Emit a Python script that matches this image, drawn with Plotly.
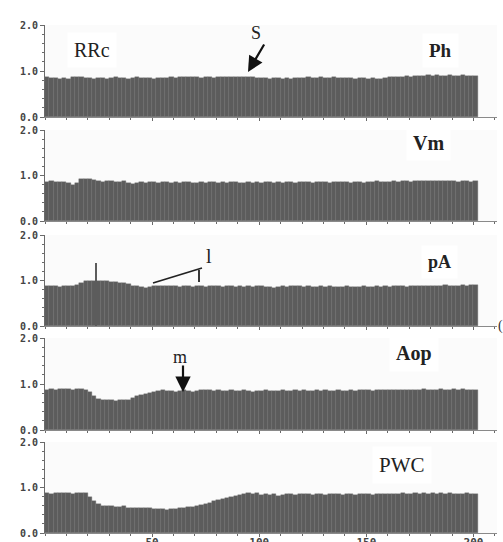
import plotly.graph_objects as go

W, H = 503, 542

# ---------------- data ----------------
x_centers = list(range(1, 202, 2))  # 101 bins, width 2

ph = [0.86,0.85,0.84,0.83,0.84,0.82,0.86,0.88,0.87,0.84,
      0.85,0.83,0.84,0.85,0.83,0.84,0.86,0.84,0.85,0.83,
      0.84,0.86,0.85,0.84,0.85,0.83,0.84,0.85,0.84,0.86,
      0.85,0.86,0.87,0.86,0.88,0.86,0.85,0.87,0.86,0.85,
      0.86,0.87,0.86,0.88,0.87,0.86,0.88,0.87,0.86,0.85,
      0.84,0.85,0.83,0.84,0.85,0.83,0.84,0.82,0.84,0.85,
      0.84,0.86,0.85,0.84,0.87,0.85,0.84,0.86,0.85,0.84,
      0.85,0.84,0.83,0.85,0.84,0.83,0.84,0.83,0.82,0.84,
      0.86,0.87,0.88,0.87,0.89,0.88,0.90,0.89,0.90,0.91,
      0.90,0.91,0.89,0.90,0.91,0.90,0.89,0.91,0.90,0.89,0.90]

vm = [0.86,0.87,0.86,0.85,0.86,0.84,0.80,0.84,0.92,0.93,
      0.92,0.90,0.87,0.86,0.87,0.88,0.86,0.85,0.87,0.84,
      0.82,0.83,0.85,0.84,0.86,0.85,0.84,0.86,0.85,0.84,
      0.85,0.84,0.86,0.85,0.84,0.83,0.85,0.84,0.86,0.85,
      0.84,0.85,0.84,0.86,0.85,0.84,0.83,0.85,0.84,0.85,
      0.84,0.86,0.85,0.84,0.85,0.84,0.86,0.85,0.84,0.85,
      0.86,0.85,0.84,0.85,0.86,0.85,0.84,0.86,0.85,0.86,
      0.85,0.84,0.86,0.85,0.84,0.86,0.85,0.87,0.86,0.85,
      0.86,0.87,0.86,0.88,0.87,0.86,0.88,0.89,0.88,0.87,
      0.88,0.89,0.88,0.87,0.88,0.87,0.86,0.88,0.87,0.86,0.87]

pa = [0.88,0.87,0.88,0.86,0.87,0.88,0.87,0.90,0.95,0.98,
      0.99,1.00,1.00,0.99,0.98,0.96,0.97,0.95,0.94,0.92,
      0.89,0.87,0.85,0.83,0.86,0.88,0.87,0.89,0.88,0.87,
      0.88,0.86,0.87,0.88,0.86,0.87,0.88,0.86,0.87,0.88,
      0.87,0.86,0.88,0.87,0.86,0.87,0.85,0.87,0.86,0.88,
      0.87,0.86,0.85,0.84,0.86,0.87,0.86,0.88,0.89,0.87,
      0.86,0.87,0.86,0.85,0.87,0.86,0.87,0.86,0.85,0.86,
      0.87,0.86,0.85,0.86,0.87,0.86,0.85,0.87,0.86,0.87,
      0.86,0.87,0.88,0.87,0.86,0.88,0.87,0.88,0.89,0.88,
      0.89,0.88,0.89,0.90,0.89,0.88,0.89,0.90,0.89,0.90,0.90]
pa_spike_x = [24]
pa_spike_y = [1.39]

aop = [0.88,0.89,0.88,0.90,0.89,0.90,0.88,0.89,0.90,0.88,
       0.82,0.74,0.68,0.66,0.65,0.65,0.64,0.65,0.65,0.66,
       0.69,0.73,0.77,0.79,0.81,0.83,0.84,0.86,0.84,0.85,
       0.83,0.84,0.86,0.85,0.82,0.84,0.86,0.87,0.86,0.85,
       0.86,0.85,0.84,0.86,0.85,0.84,0.86,0.85,0.83,0.85,
       0.84,0.86,0.85,0.84,0.85,0.86,0.84,0.85,0.86,0.85,
       0.86,0.85,0.84,0.86,0.85,0.86,0.84,0.85,0.86,0.85,
       0.84,0.86,0.85,0.86,0.87,0.86,0.85,0.86,0.87,0.86,
       0.87,0.86,0.88,0.87,0.86,0.88,0.87,0.88,0.89,0.88,
       0.87,0.88,0.89,0.88,0.87,0.89,0.88,0.89,0.88,0.87,0.88]

pwc = [0.87,0.86,0.88,0.87,0.89,0.88,0.86,0.88,0.89,0.87,
       0.80,0.70,0.63,0.60,0.59,0.59,0.58,0.58,0.59,0.56,
       0.55,0.55,0.56,0.55,0.54,0.53,0.52,0.52,0.51,0.52,
       0.53,0.54,0.55,0.57,0.58,0.60,0.62,0.64,0.67,0.70,
       0.72,0.75,0.78,0.80,0.82,0.84,0.85,0.87,0.86,0.87,
       0.84,0.86,0.83,0.85,0.82,0.84,0.86,0.85,0.84,0.86,
       0.85,0.86,0.84,0.86,0.85,0.84,0.86,0.85,0.86,0.84,
       0.85,0.86,0.84,0.85,0.86,0.85,0.84,0.85,0.86,0.85,
       0.86,0.85,0.86,0.87,0.86,0.85,0.87,0.86,0.87,0.86,
       0.87,0.86,0.87,0.86,0.87,0.86,0.85,0.86,0.87,0.86,0.86]

series = [ph, vm, pa, aop, pwc]
x_ticks = [50, 100, 150, 200]
x_tick_labels = ["50", "100", "150", "200"]
y_ticks = [0, 1, 2]
y_tick_labels = ["0.0", "1.0", "2.0"]

# ---------------- layout geometry (window pixels) ----------------
X0, X1 = 45, 497
XR = [0, 211]
panels = [(25, 117), (130, 221), (235, 326), (338, 430), (442, 533)]

def fx(p):
    return p / W

def fy(p):
    return 1 - p / H

def dx(p):
    return (p - X0) * (XR[1] - XR[0]) / (X1 - X0)

def dy(n, p):
    top, bot = panels[n]
    return (bot - p) * 2.0 / (bot - top)

BAR = "#5c5c5c"
AXC = "#6a6a6a"
TICKF = dict(family="DejaVu Sans Mono", size=10, color="#444", weight="bold")
XTICKF = dict(family="DejaVu Sans Mono", size=11, color="#444", weight="bold")

fig = go.Figure()
for n, vals in enumerate(series):
    sfx = "" if n == 0 else str(n + 1)
    fig.add_trace(go.Bar(x=x_centers, y=vals, width=2,
                         marker=dict(color=BAR, line=dict(width=0.4, color="#6c6c6c")),
                         xaxis="x" + sfx, yaxis="y" + sfx, showlegend=False,
                         hoverinfo="skip"))
fig.add_trace(go.Bar(x=pa_spike_x, y=pa_spike_y, width=0.7,
                     marker=dict(color=BAR, line=dict(width=0)),
                     xaxis="x3", yaxis="y3", showlegend=False, hoverinfo="skip"))

layout = dict(width=W, height=H, margin=dict(l=0, r=0, t=0, b=0, pad=0),
              autosize=False,
              paper_bgcolor="white", plot_bgcolor="#fbfbfb",
              bargap=0, barmode="overlay", showlegend=False)
for n, (top, bot) in enumerate(panels):
    sfx = "" if n == 0 else str(n + 1)
    layout["xaxis" + sfx] = dict(
        domain=[fx(X0), fx(X1)], range=XR, anchor="y" + sfx, automargin=False,
        tickmode="array", tickvals=x_ticks, ticktext=x_tick_labels,
        showticklabels=(n == 4), tickfont=XTICKF, ticklabelstandoff=-4,
        ticks="outside", ticklen=3, tickcolor=AXC,
        minor=dict(tickmode="linear", tick0=0, dtick=10, ticks="outside",
                   ticklen=2, tickcolor=AXC, showgrid=False),
        showline=True, linecolor="#8a8a8a", linewidth=1,
        showgrid=False, zeroline=False, fixedrange=True)
    layout["yaxis" + sfx] = dict(
        domain=[fy(bot), fy(top)], range=[0, 2], anchor="x" + sfx, automargin=False,
        tickmode="array", tickvals=y_ticks, ticktext=y_tick_labels,
        tickfont=TICKF, ticks="outside", ticklen=4, tickcolor=AXC,
        minor=dict(tickmode="linear", tick0=0, dtick=0.2, ticks="outside",
                   ticklen=2, tickcolor=AXC, showgrid=False),
        showline=True, linecolor=AXC, linewidth=1,
        showgrid=False, zeroline=False, fixedrange=True)
fig.update_layout(**layout)

SERIF = "Liberation Serif"
ann = []

def label(n, text, cx, cy, size, bold=False):
    sfx = "" if n == 0 else str(n + 1)
    ann.append(dict(x=dx(cx), y=dy(n, cy), xref="x" + sfx, yref="y" + sfx,
                    text=text, showarrow=False,
                    font=dict(family=SERIF, size=size, color="#222",
                              weight="bold" if bold else "normal"),
                    bgcolor="white", borderpad=6))

label(0, "RRc", 92, 50, 20)
label(0, "Ph", 440, 50, 19, True)
label(1, "Vm", 428, 143, 20, True)
label(2, "pA", 439, 262, 18, True)
label(3, "Aop", 414, 353, 20, True)
label(4, "PWC", 402, 465, 21)

# S arrow
ann.append(dict(x=dx(256), y=dy(0, 33), xref="x", yref="y", text="S",
                showarrow=False, font=dict(family=SERIF, size=18, color="#222")))
ann.append(dict(x=dx(248), y=dy(0, 72), xref="x", yref="y", text="",
                showarrow=True, arrowhead=2, arrowsize=1.4, arrowwidth=2.2,
                arrowcolor="#111", ax=265 - 248, ay=43 - 72))
# m arrow
ann.append(dict(x=dx(180), y=dy(3, 357), xref="x4", yref="y4", text="m",
                showarrow=False, font=dict(family=SERIF, size=18, color="#222")))
ann.append(dict(x=dx(183), y=dy(3, 392), xref="x4", yref="y4", text="",
                showarrow=True, arrowhead=2, arrowsize=1.4, arrowwidth=2.2,
                arrowcolor="#111", ax=0, ay=364 - 392))
# l label
ann.append(dict(x=dx(209), y=dy(2, 256), xref="x3", yref="y3", text="l",
                showarrow=False, font=dict(family=SERIF, size=20, color="#222")))
# stray bracket at right edge
ann.append(dict(x=fx(496), y=fy(326), xref="paper", yref="paper", text="(",
                xanchor="left", showarrow=False,
                font=dict(family=SERIF, size=14, color="#333")))
fig.update_layout(annotations=ann)

fig.update_layout(shapes=[
    dict(type="line", xref="x3", yref="y3", x0=dx(153), y0=dy(2, 283),
         x1=dx(202), y1=dy(2, 268), line=dict(color="#222", width=1.8)),
    dict(type="line", xref="x3", yref="y3", x0=dx(199), y0=dy(2, 270),
         x1=dx(199), y1=dy(2, 282), line=dict(color="#222", width=1.8)),
])

fig.write_html("out.html", config={"displayModeBar": False},
               post_script="document.body.style.margin='0px';"
                           "document.body.style.overflow='hidden';")
